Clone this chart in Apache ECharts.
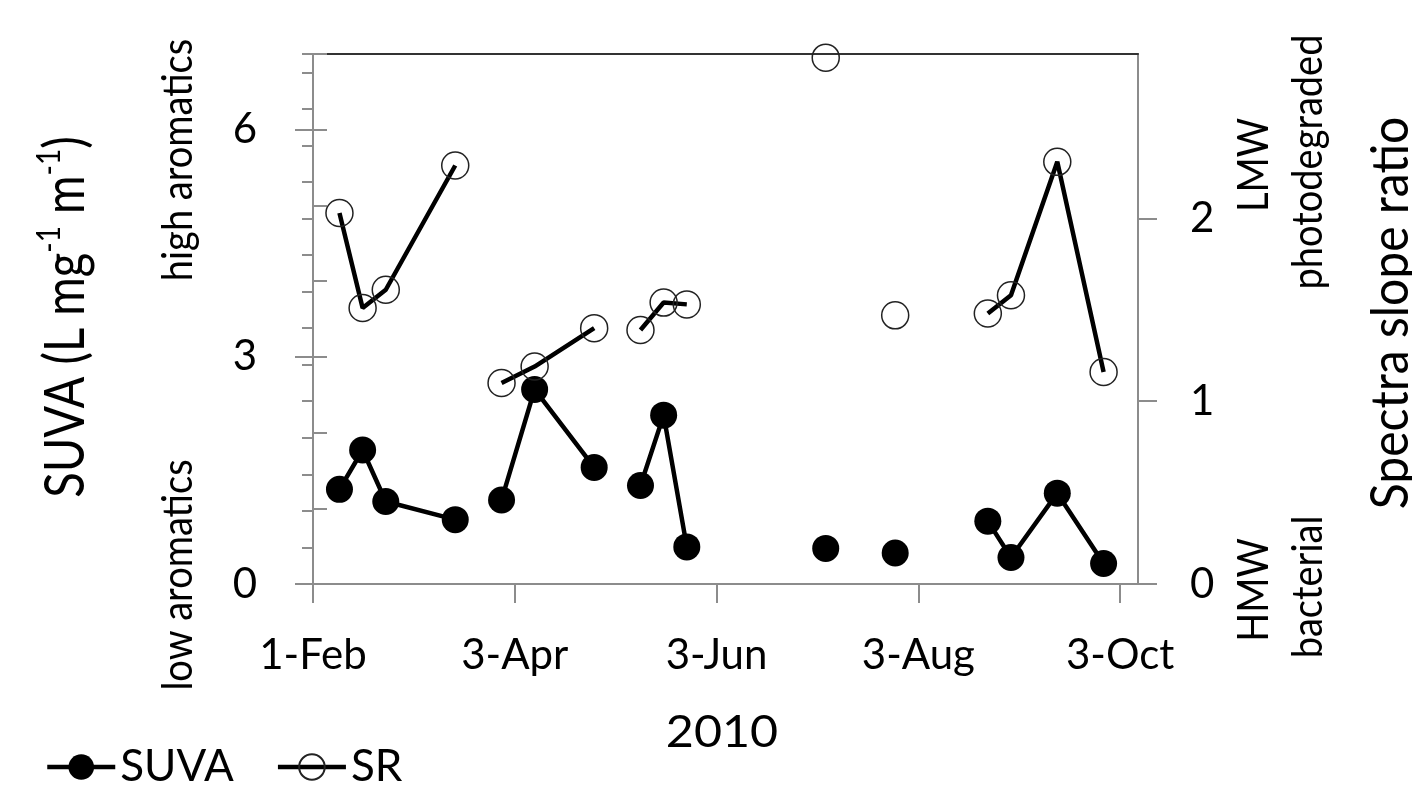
<!DOCTYPE html>
<html><head><meta charset="utf-8">
<script src="https://cdn.jsdelivr.net/npm/echarts@6/dist/echarts.min.js"></script>
<style>html,body{margin:0;padding:0;background:#fff}#c{width:1412px;height:795px}</style>
</head><body><div id="c"></div>
<script>
// ---- data ----
const sampleDates = ['2010-02-09','2010-02-16','2010-02-23','2010-03-16','2010-03-30','2010-04-09','2010-04-27','2010-05-11','2010-05-18','2010-05-25','2010-07-06','2010-07-27','2010-08-24','2010-08-31','2010-09-14','2010-09-28'];
const sampleGroups = [1,1,1,1,2,2,2,3,3,3,4,5,6,6,6,6];
const suvaValues = [1.25,1.77,1.09,0.85,1.11,2.57,1.54,1.30,2.23,0.49,0.47,0.41,0.83,0.35,1.20,0.27];
const srValues = [2.03,1.51,1.61,2.29,1.10,1.19,1.40,1.39,1.54,1.53,2.88,1.47,1.48,1.58,2.31,1.16];
const xTickDates = ['2010-02-01','2010-04-03','2010-06-03','2010-08-03','2010-10-03'];
const suvaTicks = [0,3,6];
const srTicks = [0,1,2];
const axisStartDate = '2010-02-01';
const axisSpanDays = 249.4;
const monthNames = ['Jan','Feb','Mar','Apr','May','Jun','Jul','Aug','Sep','Oct','Nov','Dec'];

// ---- helpers ----
const DAY = 86400000;
const t0 = Date.parse(axisStartDate + 'T00:00:00Z');
const dayOf = s => (Date.parse(s + 'T00:00:00Z') - t0) / DAY;
const xTickDays = xTickDates.map(dayOf);
function build(vals) {
  const out = [];
  for (let i = 0; i < vals.length; i++) {
    if (i > 0 && sampleGroups[i] !== sampleGroups[i - 1]) {
      out.push([(dayOf(sampleDates[i - 1]) + dayOf(sampleDates[i])) / 2, null]);
    }
    out.push([dayOf(sampleDates[i]), vals[i]]);
  }
  return out;
}
const FONT = 'Lato';
const GRAY = '#8c8c8c';

const chart = echarts.init(document.getElementById('c'));
const T = (text, x, y, size, rot, s) => ({
  type: 'text', x: x, y: y, rotation: rot ? Math.PI / 2 : 0,
  scaleX: rot ? 1 : s, scaleY: rot ? s : 1,
  style: { text: text, fontFamily: FONT, fontSize: size, fill: '#000', align: 'center', verticalAlign: 'middle' }
});

chart.setOption({
  animation: false,
  backgroundColor: '#fff',
  grid: { left: 313, right: 274, top: 54, bottom: 211, containLabel: false, outerBoundsMode: 'none' },
  legend: {
    left: 40, top: 740, itemWidth: 68, itemHeight: 32, itemGap: 42,
    lineStyle: { width: 4.5, color: '#000' },
    textStyle: { fontFamily: FONT, fontSize: 44, color: '#000' },
    data: ['SUVA', 'SR']
  },
  xAxis: [
    {
      type: 'value', position: 'bottom', min: 0, max: axisSpanDays,
      axisLine: { show: true, onZero: false, lineStyle: { color: GRAY, width: 2 } },
      axisTick: { show: true, customValues: xTickDays, length: 19, inside: false, lineStyle: { color: GRAY, width: 2 } },
      axisLabel: {
        customValues: xTickDays, fontFamily: FONT, fontSize: 42, color: '#000', margin: 50,
        formatter: v => { const d = new Date(t0 + Math.round(v) * DAY); return d.getUTCDate() + '-' + monthNames[d.getUTCMonth()]; }
      },
      splitLine: { show: false }
    },
    {
      type: 'value', position: 'top', min: 0, max: axisSpanDays,
      axisLine: { show: true, onZero: false, lineStyle: { color: '#333', width: 2 } },
      axisTick: { show: false }, axisLabel: { show: false }, splitLine: { show: false }
    }
  ],
  yAxis: [
    {
      type: 'value', position: 'left', min: 0, max: 7,
      axisLine: { show: true, onZero: false, lineStyle: { color: GRAY, width: 2 } },
      axisTick: { show: true, customValues: suvaTicks, length: 18, inside: false, lineStyle: { color: GRAY, width: 2 } },
      axisLabel: { customValues: suvaTicks, fontFamily: FONT, fontSize: 42, color: '#000', margin: 56 },
      splitLine: { show: false }
    },
    {
      type: 'value', position: 'left', min: 0, max: 7, interval: 1,
      axisLine: { show: false },
      axisTick: { show: true, length: 14, inside: true, lineStyle: { color: GRAY, width: 2 } },
      axisLabel: { show: false }, splitLine: { show: false }
    },
    {
      type: 'value', position: 'right', min: 0, max: 2.9,
      axisLine: { show: true, onZero: false, lineStyle: { color: GRAY, width: 2 } },
      axisTick: { show: true, customValues: srTicks, length: 19, inside: false, lineStyle: { color: GRAY, width: 2 } },
      axisLabel: { customValues: srTicks, fontFamily: FONT, fontSize: 42, color: '#000', margin: 52 },
      splitLine: { show: false }
    },
    {
      type: 'value', position: 'right', min: 0, max: 2.9, interval: 0.2,
      axisLine: { show: false },
      axisTick: { show: true, length: 11, inside: true, lineStyle: { color: GRAY, width: 2 } },
      axisLabel: { show: false }, splitLine: { show: false }
    }
  ],
  series: [
    {
      name: 'SUVA', type: 'line', xAxisIndex: 0, yAxisIndex: 0, data: build(suvaValues),
      connectNulls: false, symbol: 'circle', symbolSize: 27,
      itemStyle: { color: '#000' }, lineStyle: { color: '#000', width: 4.5 }, z: 3
    },
    {
      name: 'SR', type: 'line', xAxisIndex: 0, yAxisIndex: 2, data: build(srValues),
      connectNulls: false, symbol: 'circle', symbolSize: 27,
      itemStyle: { color: 'rgba(255,255,255,0)', borderColor: '#222', borderWidth: 1.5 },
      lineStyle: { color: '#000', width: 4.5 }, z: 4
    }
  ],
  graphic: [
    {
      type: 'text', x: 66, y: 317, rotation: Math.PI / 2, scaleY: 1.2,
      style: {
        text: '{a|SUVA (L mg}{s|-1}{a| m}{s|-1}{a|)}', align: 'center', verticalAlign: 'middle', fill: '#000',
        rich: {
          a: { fontFamily: FONT, fontSize: 47, fill: '#000', lineHeight: 56 },
          s: { fontFamily: FONT, fontSize: 28, fill: '#000', verticalAlign: 'top', lineHeight: 56 }
        }
      }
    },
    T('high aromatics', 179, 160, 38, true, 1.1),
    T('low aromatics', 179, 575, 38, true, 1.1),
    T('LMW', 1255, 165, 38, true, 1.1),
    T('photodegraded', 1309, 162, 38, true, 1.1),
    T('HMW', 1255, 590, 38, true, 1.1),
    T('bacterial', 1309, 587, 38, true, 1.1),
    T('Spectra slope ratio', 1391, 313, 48, true, 1.1),
    T('2010', 722, 733, 44, false, 1.1)
  ]
});
</script>
</body></html>
